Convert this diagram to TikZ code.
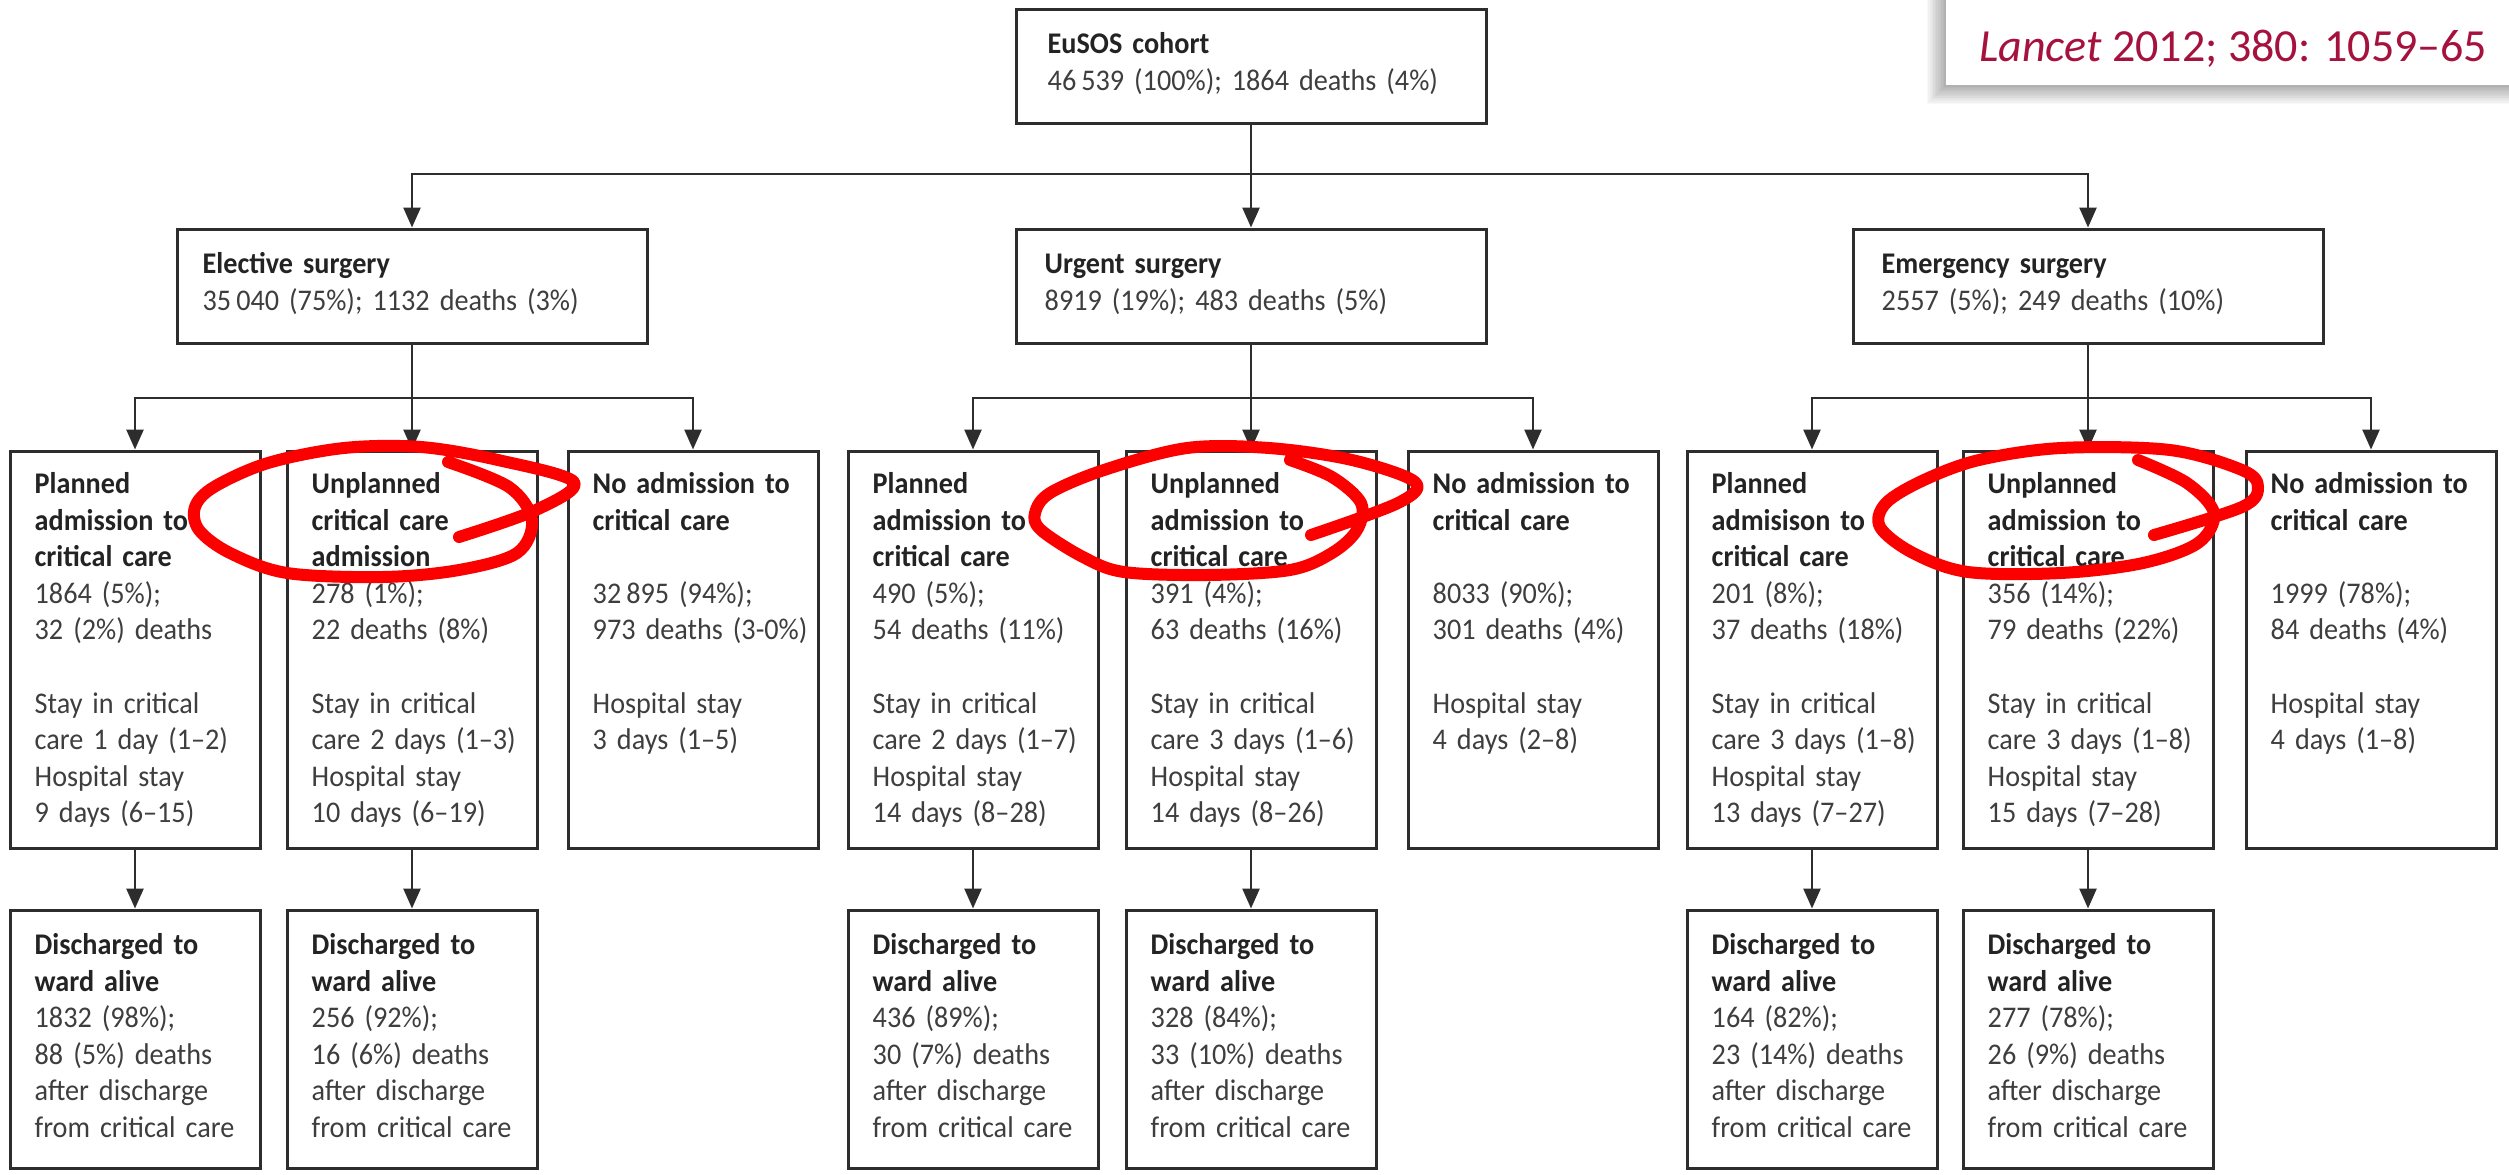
\documentclass[tikz,border=0pt]{standalone}
\usepackage{fontspec}
\setmainfont[FakeStretch=0.94]{Carlito}
\newfontfamily\citefont{Carlito}
\usetikzlibrary{arrows.meta}

\definecolor{linecol}{RGB}{45,45,45}
\definecolor{textcol}{RGB}{62,62,62}
\definecolor{headcol}{RGB}{35,35,35}
\definecolor{lancetred}{RGB}{165,18,62}
\definecolor{markerred}{RGB}{252,0,0}

\newcommand\diagfont{\fontsize{30pt}{36.6pt}\selectfont}
\newcommand\headtxt[1]{{\bfseries\color{headcol}#1}}
\newcommand\gapline{\\\mbox{}\\}

\begin{document}
\begin{tikzpicture}[x=1pt,y=-1pt,
  framebox/.style={draw=linecol, line width=3pt, fill=white, inner sep=0pt},
  wide/.style={framebox, minimum width=470pt, minimum height=114pt},
  column/.style={framebox, minimum width=250pt, minimum height=397pt},
  outcome/.style={framebox, minimum width=250pt, minimum height=258pt},
  txt/.style={anchor=base west, inner sep=0pt, text width=235pt, align=left,
              font=\diagfont, text=textcol},
  wtxt/.style={txt, text width=440pt},
  conn/.style={draw=linecol, line width=2.6pt},
  arr/.style={conn, -{Triangle[length=20pt,width=17pt]}},
  ink/.style={draw=markerred, line width=12pt, line cap=round, line join=round}
]
% page
\fill[white] (0,0) rectangle (2509,1175);
\useasboundingbox (0,0) rectangle (2509,1175);

% citation label with a soft shadow
\foreach \i in {1,...,12}
  \fill[black, opacity=0.026] (1946-1.6*\i,-10) rectangle (2530,85+1.6*\i);
\fill[white] (1946,-10) rectangle (2530,85);
\node[anchor=base west, inner sep=0pt, font=\citefont\fontsize{46pt}{50pt}\selectfont,
      text=lancetred] (cite) at (1979,61) {\textit{Lancet} 2012; 380: 1059–65};

% ---- boxes ----
\node[framebox, minimum width=470pt, minimum height=114pt] (top) at (1251,66) {};
\node[wide] (el) at (412,286) {};
\node[wide] (ur) at (1251,286) {};
\node[wide] (em) at (2088,286) {};

\node[column] (pe) at (135,649.5) {};
\node[column] (ue) at (412,649.5) {};
\node[column] (ne) at (693,649.5) {};
\node[column] (pu) at (973,649.5) {};
\node[column] (uu) at (1251,649.5) {};
\node[column] (nu) at (1533,649.5) {};
\node[column] (pm) at (1812,649.5) {};
\node[column] (um) at (2088,649.5) {};
\node[column] (nm) at (2371,649.5) {};

\node[outcome] (pe4) at (135,1039) {};
\node[outcome] (ue4) at (412,1039) {};
\node[outcome] (pu4) at (973,1039) {};
\node[outcome] (uu4) at (1251,1039) {};
\node[outcome] (pm4) at (1812,1039) {};
\node[outcome] (um4) at (2088,1039) {};

% ---- connectors ----
\coordinate (split0) at (1251,174);
\draw[arr] (top.south) -- (ur.north);
\draw[arr] (split0) -| (el.north);
\draw[arr] (split0) -| (em.north);

\coordinate (splitE) at (412,398);
\coordinate (splitU) at (1251,398);
\coordinate (splitM) at (2088,398);
\draw[arr] (el.south) -- (ue.north);
\draw[arr] (splitE) -| (pe.north);
\draw[arr] (splitE) -| (ne.north);
\draw[arr] (ur.south) -- (uu.north);
\draw[arr] (splitU) -| (pu.north);
\draw[arr] (splitU) -| (nu.north);
\draw[arr] (em.south) -- (um.north);
\draw[arr] (splitM) -| (pm.north);
\draw[arr] (splitM) -| (nm.north);

\draw[arr] (pe.south) -- (pe4.north);
\draw[arr] (ue.south) -- (ue4.north);
\draw[arr] (pu.south) -- (pu4.north);
\draw[arr] (uu.south) -- (uu4.north);
\draw[arr] (pm.south) -- (pm4.north);
\draw[arr] (um.south) -- (um4.north);

% ---- texts ----
\node[wtxt] (top-t) at ([shift={(33,46)}]top.north west)
  {\headtxt{EuSOS cohort}\\46\,539 (100\%); 1864 deaths (4\%)};
\node[wtxt] (el-t) at ([shift={(27,46)}]el.north west)
  {\headtxt{Elective surgery}\\35\,040 (75\%); 1132 deaths (3\%)};
\node[wtxt] (ur-t) at ([shift={(30,46)}]ur.north west)
  {\headtxt{Urgent surgery}\\8919 (19\%); 483 deaths (5\%)};
\node[wtxt] (em-t) at ([shift={(30,46)}]em.north west)
  {\headtxt{Emergency surgery}\\2557 (5\%); 249 deaths (10\%)};

\node[txt] (pe-t) at ([shift={(26,44)}]pe.north west)
  {\headtxt{Planned}\\\headtxt{admission to}\\\headtxt{critical care}\\
   1864 (5\%);\\32 (2\%) deaths\gapline
   Stay in critical\\care 1 day (1–2)\\Hospital stay\\9 days (6–15)};
\node[txt] (ue-t) at ([shift={(26,44)}]ue.north west)
  {\headtxt{Unplanned}\\\headtxt{critical care}\\\headtxt{admission}\\
   278 (1\%);\\22 deaths (8\%)\gapline
   Stay in critical\\care 2 days (1–3)\\Hospital stay\\10 days (6–19)};
\node[txt] (ne-t) at ([shift={(26,44)}]ne.north west)
  {\headtxt{No admission to}\\\headtxt{critical care}\gapline
   32\,895 (94\%);\\973 deaths (3-0\%)\gapline
   Hospital stay\\3 days (1–5)};

\node[txt] (pu-t) at ([shift={(26,44)}]pu.north west)
  {\headtxt{Planned}\\\headtxt{admission to}\\\headtxt{critical care}\\
   490 (5\%);\\54 deaths (11\%)\gapline
   Stay in critical\\care 2 days (1–7)\\Hospital stay\\14 days (8–28)};
\node[txt] (uu-t) at ([shift={(26,44)}]uu.north west)
  {\headtxt{Unplanned}\\\headtxt{admission to}\\\headtxt{critical care}\\
   391 (4\%);\\63 deaths (16\%)\gapline
   Stay in critical\\care 3 days (1–6)\\Hospital stay\\14 days (8–26)};
\node[txt] (nu-t) at ([shift={(26,44)}]nu.north west)
  {\headtxt{No admission to}\\\headtxt{critical care}\gapline
   8033 (90\%);\\301 deaths (4\%)\gapline
   Hospital stay\\4 days (2–8)};

\node[txt] (pm-t) at ([shift={(26,44)}]pm.north west)
  {\headtxt{Planned}\\\headtxt{admisison to}\\\headtxt{critical care}\\
   201 (8\%);\\37 deaths (18\%)\gapline
   Stay in critical\\care 3 days (1–8)\\Hospital stay\\13 days (7–27)};
\node[txt] (um-t) at ([shift={(26,44)}]um.north west)
  {\headtxt{Unplanned}\\\headtxt{admission to}\\\headtxt{critical care}\\
   356 (14\%);\\79 deaths (22\%)\gapline
   Stay in critical\\care 3 days (1–8)\\Hospital stay\\15 days (7–28)};
\node[txt] (nm-t) at ([shift={(26,44)}]nm.north west)
  {\headtxt{No admission to}\\\headtxt{critical care}\gapline
   1999 (78\%);\\84 deaths (4\%)\gapline
   Hospital stay\\4 days (1–8)};

\node[txt] (pe4-t) at ([shift={(26,46)}]pe4.north west)
  {\headtxt{Discharged to}\\\headtxt{ward alive}\\1832 (98\%);\\88 (5\%) deaths\\
   after discharge\\from critical care};
\node[txt] (ue4-t) at ([shift={(26,46)}]ue4.north west)
  {\headtxt{Discharged to}\\\headtxt{ward alive}\\256 (92\%);\\16 (6\%) deaths\\
   after discharge\\from critical care};
\node[txt] (pu4-t) at ([shift={(26,46)}]pu4.north west)
  {\headtxt{Discharged to}\\\headtxt{ward alive}\\436 (89\%);\\30 (7\%) deaths\\
   after discharge\\from critical care};
\node[txt] (uu4-t) at ([shift={(26,46)}]uu4.north west)
  {\headtxt{Discharged to}\\\headtxt{ward alive}\\328 (84\%);\\33 (10\%) deaths\\
   after discharge\\from critical care};
\node[txt] (pm4-t) at ([shift={(26,46)}]pm4.north west)
  {\headtxt{Discharged to}\\\headtxt{ward alive}\\164 (82\%);\\23 (14\%) deaths\\
   after discharge\\from critical care};
\node[txt] (um4-t) at ([shift={(26,46)}]um4.north west)
  {\headtxt{Discharged to}\\\headtxt{ward alive}\\277 (78\%);\\26 (9\%) deaths\\
   after discharge\\from critical care};

% ---- hand-drawn red marker loops ----
\draw[ink] plot[smooth, tension=0.55] coordinates {
  (448,462) (509,487) (532,520) (517,553) (459,570) (383,577) (287,573)
  (230,553) (199,530) (195,507) (214,487) (268,463) (344,448) (421,447)
  (498,460) (574,482) (536,510) (459,537)};
\draw[ink] plot[smooth, tension=0.55] coordinates {
  (1290,460) (1332,477) (1361,503) (1357,530) (1332,553) (1290,570) (1207,575)
  (1124,572) (1083,557) (1041,530) (1035,513) (1050,493) (1104,470) (1187,448)
  (1269,448) (1352,460) (1415,482) (1398,503) (1311,535)};
\draw[ink] plot[smooth, tension=0.55] coordinates {
  (2138,460) (2187,483) (2214,513) (2198,543) (2143,563) (2061,573) (1968,572)
  (1913,553) (1880,527) (1886,503) (1924,480) (1979,460) (2061,448) (2170,450)
  (2242,470) (2258,487) (2242,507) (2154,535)};
\end{tikzpicture}
\end{document}
